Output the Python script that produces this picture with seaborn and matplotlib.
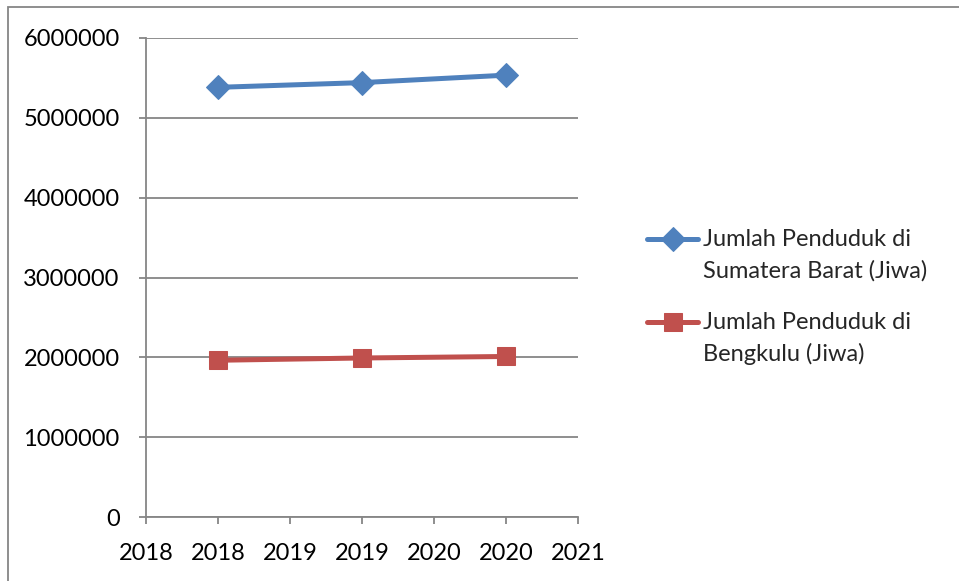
import matplotlib
matplotlib.use("Agg")
import matplotlib.pyplot as plt
import seaborn as sns
import pandas as pd
from matplotlib.patches import Rectangle
from matplotlib.legend_handler import HandlerLine2D

years = [2018, 2019, 2020]
sumbar = [5382077, 5441197, 5534472]
bengkulu = [1963300, 1991800, 2010670]
series_names = ["Jumlah Penduduk di\nSumatera Barat (Jiwa)", "Jumlah Penduduk di\nBengkulu (Jiwa)"]
x_ticks = [2017.5, 2018, 2018.5, 2019, 2019.5, 2020, 2020.5]
x_labels = ["2018", "2018", "2019", "2019", "2020", "2020", "2021"]
y_ticks = [0, 1000000, 2000000, 3000000, 4000000, 5000000, 6000000]

FS = 17

sns.set_theme(style="white")
plt.rcParams['font.family'] = ['Lato', 'DejaVu Sans']

fig = plt.figure(figsize=(9.59, 5.81), dpi=100)
ax = fig.add_axes([146/959, 1-517/581, (578-146)/959, (517-38)/581])

df1 = pd.DataFrame({"year": years, "value": sumbar})
df2 = pd.DataFrame({"year": years, "value": bengkulu})
sns.lineplot(data=df1, x="year", y="value", ax=ax, color="#4F81BD", lw=3.6,
             marker="D", markersize=12, markeredgecolor="#4F81BD", label=series_names[0])
sns.lineplot(data=df2, x="year", y="value", ax=ax, color="#C0504D", lw=3.6,
             marker="s", markersize=12.5, markeredgecolor="#C0504D", label=series_names[1])

ax.set_xlim(2017.5, 2020.5)
ax.set_ylim(0, 6000000)
ax.set_xticks(x_ticks)
ax.set_xticklabels(x_labels)
ax.set_yticks(y_ticks)
ax.set_yticklabels([str(v) for v in y_ticks])
ax.set_xlabel("")
ax.set_ylabel("")
ax.yaxis.grid(True, color="#868686", lw=1.3)
ax.set_axisbelow(True)
for s in ["top", "right"]:
    ax.spines[s].set_visible(False)
for s in ["left", "bottom"]:
    ax.spines[s].set_color("#868686")
    ax.spines[s].set_linewidth(1.3)
ax.tick_params(axis="both", which="both", direction="out", length=5, width=1.3,
               color="#868686", labelsize=FS, labelcolor="black", bottom=True, left=True)
ax.tick_params(axis="x", pad=14)
ax.tick_params(axis="y", pad=14)


class UpHandler(HandlerLine2D):
    def create_artists(self, legend, orig_handle, xdescent, ydescent, width, height,
                       fontsize, trans):
        arts = super().create_artists(legend, orig_handle, xdescent, ydescent, width,
                                      height, fontsize, trans)
        for a in arts:
            a.set_ydata([y + 12 for y in a.get_ydata()])
        return arts


handles, labels = ax.get_legend_handles_labels()
ax.get_legend().remove()
leg = fig.legend(handles, labels, loc="upper left", bbox_to_anchor=(638/959, 1-220/581),
                 frameon=False, fontsize=FS, handlelength=2.15, handletextpad=0.2,
                 labelspacing=1.3, borderaxespad=0,
                 handler_map={h: UpHandler() for h in handles})
for t in leg.get_texts():
    t.set_linespacing(1.55)

fig.patches.append(Rectangle((8/959, -0.1), 1.2, 1-7/581+0.1, transform=fig.transFigure,
                             fill=False, edgecolor="#868686", lw=1.3, zorder=0))

fig.savefig("out.png", dpi=100)
